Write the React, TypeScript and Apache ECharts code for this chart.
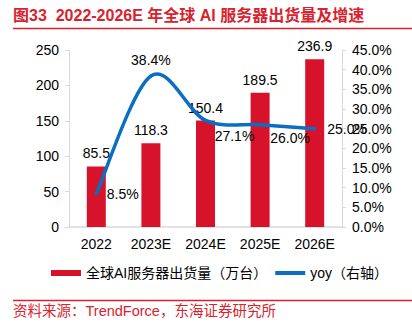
import React, { useEffect, useRef } from "react";
import * as echarts from "echarts";

const categories = ["2022", "2023E", "2024E", "2025E", "2026E"];
const shipments = [85.5, 118.3, 150.4, 189.5, 236.9];
const yoy = [8.5, 38.4, 27.1, 26.0, 25.0];
const leftTicks = [0, 50, 100, 150, 200, 250];
const seriesNames = ["全球AI服务器出货量（万台）", "yoy（右轴）"];
const titleText = "图33  2022-2026E 年全球 AI 服务器出货量及增速";
const sourceText = "资料来源：TrendForce，东海证券研究所";

const FONT = "'Liberation Sans', Arial, 'Noto Sans CJK SC', sans-serif";
const RED = "#d7132b";
const TITLE_RED = "#d8232f";
const BLUE = "#0a6fc2";
const GRAY = "#d9d9d9";

const yoyOffsets: [number, number, string][] = [
  [2, 0, "right"],
  [0, 0, "top"],
  [29, 0, "bottom"],
  [30, -2, "bottom"],
  [4, 0, "right"],
];

export default function App() {
  const ref = useRef<HTMLDivElement>(null);
  useEffect(() => {
    if (!ref.current) return;
    const chart = echarts.init(ref.current, undefined, { renderer: "svg" });
    const n = yoy.length;
    chart.setOption({
      animation: false,
      textStyle: { fontFamily: FONT },
      grid: { left: 69, right: 70, top: 50, bottom: 98 },
      legend: {
        bottom: 40,
        left: 46,
        itemGap: 8,
        itemWidth: 30,
        itemHeight: 6,
        textStyle: { fontSize: 14, color: "#000", fontFamily: FONT },
        data: [
          { name: seriesNames[0], icon: "rect" },
          { name: seriesNames[1], icon: "path://M0,0 L30,0 L30,4 L0,4 Z" },
        ],
      },
      xAxis: {
        type: "category",
        data: categories,
        axisLine: { lineStyle: { color: GRAY, width: 1.5 } },
        axisTick: { show: false },
        axisLabel: { fontSize: 14, color: "#000", margin: 10 },
      },
      yAxis: [
        {
          type: "value",
          min: leftTicks[0],
          max: leftTicks[leftTicks.length - 1],
          interval: 50,
          axisLine: { show: true, lineStyle: { color: GRAY } },
          axisTick: { show: true, length: 4, lineStyle: { color: GRAY } },
          splitLine: { show: false },
          axisLabel: { fontSize: 14, color: "#000", margin: 10 },
        },
        {
          type: "value",
          min: 0,
          max: 45,
          interval: 5,
          axisLine: { show: true, lineStyle: { color: GRAY } },
          axisTick: { show: true, length: 4, lineStyle: { color: GRAY } },
          splitLine: { show: false },
          axisLabel: {
            fontSize: 14,
            color: "#000",
            margin: 10,
            formatter: (v: number) => v.toFixed(1) + "%",
          },
        },
      ],
      series: [
        {
          name: seriesNames[0],
          type: "bar",
          data: shipments,
          barWidth: 19,
          itemStyle: { color: RED },
          z: 1,
          label: {
            show: true,
            position: "top",
            distance: 6,
            fontSize: 14,
            color: "#000",
            formatter: (p: any) => p.value.toFixed(1),
          },
        },
        {
          name: seriesNames[1],
          type: "custom",
          yAxisIndex: 1,
          z: 3,
          itemStyle: { color: BLUE },
          data: yoy.map((v, i) => [i, v]),
          encode: { x: 0, y: 1 },
          renderItem: (params: any, api: any) => {
            const i = params.dataIndex;
            if (i >= n - 1) return { type: "group", children: [] };
            const P = yoy.map((v, k) => api.coord([k, v]));
            const p0 = P[Math.max(i - 1, 0)];
            const p1 = P[i];
            const p2 = P[i + 1];
            const p3 = P[Math.min(i + 2, n - 1)];
            const t = 1 / 6;
            return {
              type: "bezierCurve",
              shape: {
                x1: p1[0],
                y1: p1[1],
                x2: p2[0],
                y2: p2[1],
                cpx1: p1[0] + (p2[0] - p0[0]) * t,
                cpy1: p1[1] + (p2[1] - p0[1]) * t,
                cpx2: p2[0] - (p3[0] - p1[0]) * t,
                cpy2: p2[1] - (p3[1] - p1[1]) * t,
              },
              style: { stroke: BLUE, lineWidth: 3.5, lineCap: "round", fill: null },
            };
          },
        },
        {
          name: "yoy-labels",
          type: "line",
          yAxisIndex: 1,
          z: 4,
          data: yoy.map((v, i) => ({
            value: v,
            label: {
              position: yoyOffsets[i][2],
              offset: [yoyOffsets[i][0], yoyOffsets[i][1]],
            },
          })),
          showSymbol: true,
          symbol: "circle",
          symbolSize: 1,
          lineStyle: { color: "rgba(0,0,0,0)", width: 0 },
          itemStyle: { color: "rgba(0,0,0,0)", borderWidth: 0 },
          label: {
            show: true,
            fontSize: 14,
            color: "#000",
            distance: 8,
            formatter: (p: any) => p.value.toFixed(1) + "%",
          },
        },
      ],
      graphic: [
        {
          type: "text",
          left: 13,
          top: 7,
          style: {
            text: titleText,
            fontSize: 16,
            fontWeight: "bold",
            fill: TITLE_RED,
            fontFamily: FONT,
          },
        },
        {
          type: "line",
          shape: { x1: 13, y1: 28.5, x2: 412, y2: 28.5 },
          style: { stroke: TITLE_RED, lineWidth: 1.5 },
        },
        {
          type: "line",
          shape: { x1: 13, y1: 300.5, x2: 412, y2: 300.5 },
          style: { stroke: TITLE_RED, lineWidth: 1.5 },
        },
        {
          type: "text",
          left: 13,
          top: 304,
          style: {
            text: sourceText,
            fontSize: 14.5,
            fill: TITLE_RED,
            fontFamily: FONT,
          },
        },
      ],
    });
    return () => chart.dispose();
  }, []);
  return (
    <div
      ref={ref}
      style={{ position: "absolute", left: 0, top: 0, width: 412, height: 325 }}
    />
  );
}
